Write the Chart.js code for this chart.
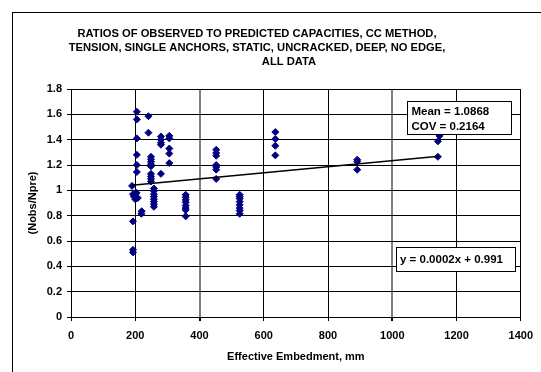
<!DOCTYPE html>
<html>
<head>
<meta charset="utf-8">
<script src="https://cdn.jsdelivr.net/npm/chart.js@4"></script>
<style>
  body { margin: 0; background: #fff; }
  #frame { position: absolute; left: 12px; top: 12px; width: 600px; height: 400px; border: 1px solid #000; }
  #wrap { position: absolute; left: 0; top: 0; width: 541px; height: 372px; }
</style>
</head>
<body>
<div id="frame"></div>
<div id="wrap"><canvas id="chart" width="541" height="372"></canvas></div>
<script>
// observed points
const embedment = [
    205, 205, 205, 205, 205, 205, 190, 193, 196, 200, 204, 208, 193, 193, 193,
    220, 219, 241, 241,
    249, 249, 249, 249, 249, 249, 249, 249, 249,
    258, 258, 258, 258, 258, 258, 258, 258,
    280, 280, 280, 280, 280,
    306, 306, 306, 306, 306,
    357, 357, 357, 357, 357, 357, 357, 357,
    452, 452, 452, 452, 452, 452, 452,
    525, 525, 525, 525, 525, 525, 525, 525,
    636, 636, 636, 636,
    891, 891, 891,
    1147, 1147, 1142, 1142
];
const ratio = [
    1.62, 1.56, 1.41, 1.28, 1.2, 1.145, 1.035, 0.97, 0.95, 0.93, 0.98, 0.94, 0.755, 0.53, 0.51,
    0.835, 0.815, 1.585, 1.455,
    1.265, 1.245, 1.225, 1.205, 1.19, 1.13, 1.11, 1.09, 1.07,
    1.015, 0.995, 0.97, 0.95, 0.93, 0.91, 0.89, 0.87,
    1.425, 1.4, 1.375, 1.36, 1.13,
    1.43, 1.41, 1.33, 1.29, 1.215,
    0.965, 0.945, 0.925, 0.905, 0.88, 0.86, 0.845, 0.795,
    1.32, 1.295, 1.273, 1.2, 1.184, 1.163, 1.09,
    0.965, 0.95, 0.935, 0.91, 0.885, 0.86, 0.84, 0.815,
    1.46, 1.405, 1.352, 1.276,
    1.242, 1.228, 1.163,
    1.46, 1.43, 1.387, 1.265
];
// linear trend line end points
const trendX = [190, 1145];
const trendY = [1.04, 1.27];

const xTicks = [0, 200, 400, 600, 800, 1000, 1200, 1400];
const yTicks = [0, 0.2, 0.4, 0.6, 0.8, 1, 1.2, 1.4, 1.6, 1.8];

const titleLines = [
    'RATIOS OF OBSERVED TO PREDICTED CAPACITIES, CC METHOD,',
    'TENSION, SINGLE ANCHORS, STATIC, UNCRACKED, DEEP, NO EDGE,',
    'ALL DATA'
];
const statsLines = ['Mean = 1.0868', 'COV = 0.2164'];
const equationText = 'y = 0.0002x + 0.991';

const FONT = '"Liberation Sans", Arial, sans-serif';

const notes = {
    id: 'notes',
    afterDraw(chart) {
        const ctx = chart.ctx;
        ctx.save();
        ctx.fillStyle = '#000';
        ctx.textBaseline = 'middle';

        // title
        ctx.font = 'bold 11.2px ' + FONT;
        ctx.textAlign = 'center';
        ctx.fillText(titleLines[0], 257, 33.5);
        ctx.fillText(titleLines[1], 257, 47.5);
        ctx.fillText(titleLines[2], 289, 61.5);

        // boxes
        const box = (x, y, w, h) => {
            ctx.fillStyle = '#fff';
            ctx.fillRect(x, y, w, h);
            ctx.strokeStyle = '#000';
            ctx.lineWidth = 1;
            ctx.strokeRect(x + 0.5, y + 0.5, w, h);
            ctx.fillStyle = '#000';
        };
        ctx.textAlign = 'left';
        ctx.font = 'bold 11.5px ' + FONT;
        box(407, 101, 104, 33);
        ctx.fillText(statsLines[0], 411.5, 111.5);
        ctx.fillText(statsLines[1], 411.5, 126.5);

        box(396, 247, 119, 24);
        ctx.fillText(equationText, 400, 259.5);
        ctx.restore();
    }
};

const greyLine = v => v === 400 || v === 1000;

new Chart(document.getElementById('chart'), {
    type: 'scatter',
    data: {
        datasets: [{
            data: embedment.map((x, i) => ({ x: x, y: ratio[i] })),
            pointStyle: 'rectRot',
            pointRadius: 3.5,
            backgroundColor: '#000080',
            borderColor: '#000080',
            borderWidth: 1,
            order: 2
        }, {
            data: trendX.map((x, i) => ({ x: x, y: trendY[i] })),
            showLine: true,
            pointRadius: 0,
            borderColor: '#000',
            borderWidth: 1.5,
            order: 1
        }]
    },
    options: {
        responsive: false,
        animation: false,
        layout: { padding: { left: 13, top: 89, right: 17, bottom: 0 } },
        plugins: { legend: { display: false }, tooltip: { enabled: false }, title: { display: false } },
        scales: {
            x: {
                type: 'linear',
                min: 0, max: 1400,
                afterBuildTicks: s => { s.ticks = xTicks.map(v => ({ value: v })); },
                afterFit: s => { s.height = 55; },
                grid: {
                    color: c => greyLine(c.tick && c.tick.value) ? '#808080' : '#000',
                    lineWidth: c => greyLine(c.tick && c.tick.value) ? 2 : 1,
                    tickColor: '#000',
                    tickLength: 4
                },
                border: { color: '#000', width: 1 },
                ticks: {
                    color: '#000', padding: 8,
                    callback: v => String(v),
                    font: { family: FONT, size: 11, weight: 'bold' }
                },
                title: {
                    display: true,
                    text: 'Effective Embedment, mm',
                    color: '#000',
                    padding: { top: 0, bottom: 8.7 },
                    font: { family: FONT, size: 11, weight: 'bold' }
                }
            },
            y: {
                min: 0, max: 1.8,
                afterBuildTicks: s => { s.ticks = yTicks.map(v => ({ value: v })); },
                afterFit: s => { s.width = 58; },
                grid: { color: '#000', tickColor: '#000', tickLength: 4 },
                border: { color: '#000', width: 1 },
                ticks: {
                    color: '#000', padding: 5,
                    callback: v => String(v),
                    font: { family: FONT, size: 11, weight: 'bold' }
                },
                title: {
                    display: true,
                    text: '(Nobs/Npre)',
                    color: '#000',
                    padding: { top: 13.4, bottom: 0 },
                    font: { family: FONT, size: 11, weight: 'bold' }
                }
            }
        }
    },
    plugins: [notes]
});
</script>
</body>
</html>
